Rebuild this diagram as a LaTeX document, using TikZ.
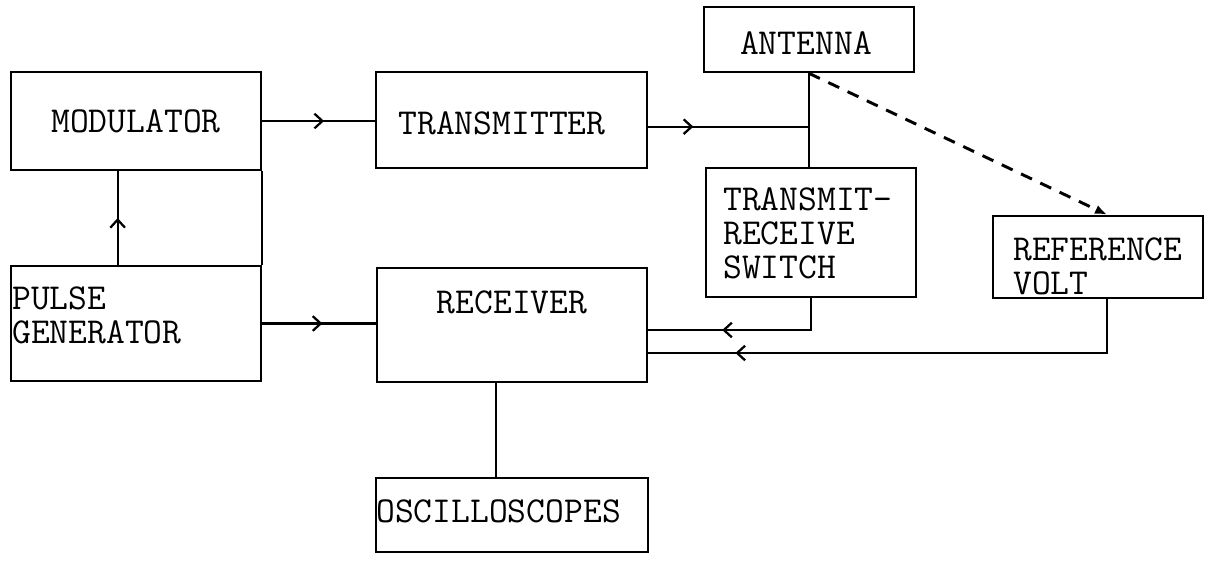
\documentclass[tikz,border=0pt]{standalone}
\usetikzlibrary{arrows.meta,decorations.markings,fit}
\tikzset{
  box/.style={draw,line width=2pt,inner sep=0pt},
  lbl/.style={inner sep=0pt,font=\ttfamily\fontsize{27.4}{25.5}\selectfont,align=left},
  wire/.style={line width=1.7pt},
  midarrow/.style={postaction={decorate},decoration={markings,
     mark=at position #1 with {\arrow{Straight Barb[length=6pt,width=11pt]}}}},
}
\begin{document}
\begin{tikzpicture}[x=0.75pt,y=-0.75pt]
\useasboundingbox (0,0) rectangle (1212,562);
% boxes
\node[box,fit={(11,72) (261,170)}] (mod) {};
\node[box,fit={(11,266) (261,381)}] (pg) {};
\node[box,fit={(376,72) (647,168)}] (tx) {};
\node[box,fit={(377,268) (647,382)}] (rx) {};
\node[box,fit={(704,7) (914,72)}] (ant) {};
\node[box,fit={(706,168) (916,297)}] (trs) {};
\node[box,fit={(993,216) (1203,298)}] (ref) {};
\node[box,fit={(376,478) (648,552)}] (osc) {};
% labels
\node[lbl] (tmod) at (136,121) {MODULATOR};
\node[lbl,anchor=west] (tpg) at (12,315) {PULSE\\GENERATOR};
\node[lbl] (ttx) at (502,123) {TRANSMITTER};
\node[lbl] (trx) at (512,302) {RECEIVER};
\node[lbl] (tant) at (806,43) {ANTENNA};
\node[lbl,anchor=west] (ttrs) at (723,233) {TRANSMIT-\\RECEIVE\\SWITCH};
\node[lbl,anchor=west] (tref) at (1013,266) {REFERENCE\\VOLT};
\node[lbl,anchor=west] (tosc) at (376,511) {OSCILLOSCOPES};
% connectors
\draw[wire] (mod.south east) -- (pg.north east);
\draw[wire,midarrow=0.5] ([xshift=81pt]pg.north west) coordinate (p1) -- (p1 |- mod.south);
\draw[wire,midarrow=0.55] (mod.east) -- (mod.east -| tx.west);
\draw[wire,midarrow=0.53] (pg.east) -- (pg.east -| rx.west);
\draw[wire,midarrow=0.28] ([yshift=-5pt]tx.east) coordinate (p2) -- (p2 -| ant.south);
\draw[wire] (ant.south) -- (ant.south |- trs.north);
\draw[line width=2.2pt,dash pattern=on 9pt off 7pt,-{Latex[length=9pt,width=7pt]}] (ant.south) -- ([xshift=6.75pt]ref.north);
\draw[wire,midarrow=0.62] (trs.south) |- ([yshift=-3.75pt]rx.east);
\draw[wire,midarrow=0.83] ([xshift=6.75pt]ref.south) |- ([yshift=-21pt]rx.east);
\draw[wire] ([xshift=90pt]rx.south west) coordinate (p3) -- (p3 |- osc.north);
\end{tikzpicture}
\end{document}
